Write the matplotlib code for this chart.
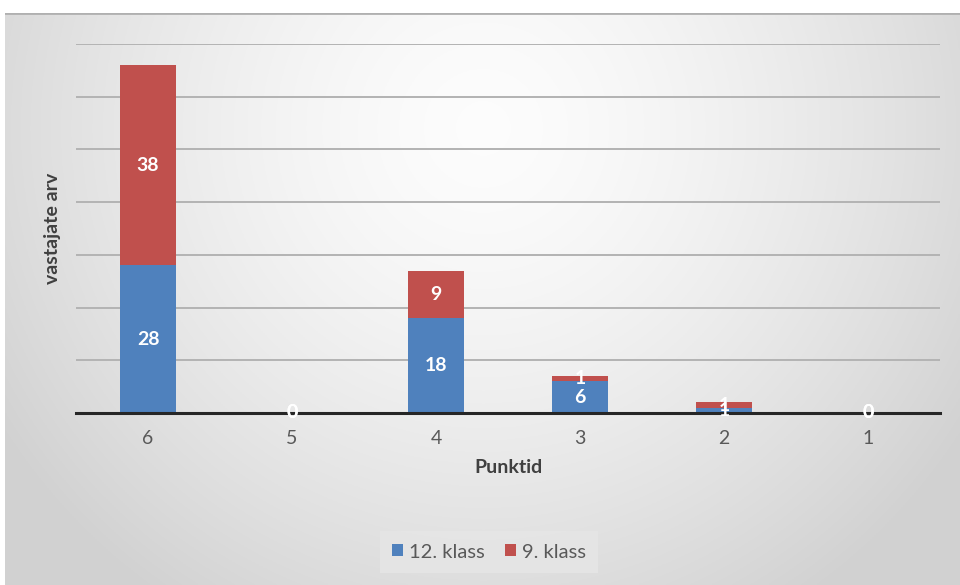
import matplotlib.pyplot as plt
import numpy as np

plt.rcParams["font.family"] = ["Lato", "DejaVu Sans"]

# ---------- data ----------
categories = ["6", "5", "4", "3", "2", "1"]
klass12 = [28, 0, 18, 6, 1, 0]
klass9 = [38, 0, 9, 1, 1, 0]

BLUE = "#4f81bd"
RED = "#c0504d"
GREY_TXT = "#595959"

fig = plt.figure(figsize=(9.6, 5.85), dpi=100)

# ---------- background gradient (chart area) ----------
bg = fig.add_axes([5 / 960, 0, 955 / 960, 1 - 13 / 585], zorder=-5)
h, w = 300, 500
yy, xx = np.mgrid[0:h, 0:w]
dx = (xx - w * 0.5) / (w * 0.6)
dy = (yy - h * 0.2) / (h * 1.0)
r = np.clip(np.sqrt(dx ** 2 + dy ** 2), 0, 1)
shade = 0.99 - 0.17 * r ** 1.5
bg.imshow(np.dstack([shade] * 3), aspect="auto", extent=[0, 1, 0, 1])
bg.axhline(1, color="#b0b0b0", lw=2)
bg.axis("off")

# ---------- bars ----------
ax = fig.add_axes([76 / 960, 1 - 413 / 585, 864 / 960, (413 - 44) / 585])
ax.set_facecolor("none")
x = np.arange(len(categories))
width = 0.39
ax.bar(x, klass12, width, color=BLUE, label="12. klass", zorder=3)
ax.bar(x, klass9, width, bottom=klass12, color=RED, label="9. klass", zorder=3)

for i in range(len(categories)):
    ax.text(x[i], klass12[i] / 2, str(klass12[i]), ha="center", va="center",
            color="white", fontsize=14, fontweight="bold", zorder=5)
    ax.text(x[i], klass12[i] + klass9[i] / 2, str(klass9[i]), ha="center", va="center",
            color="white", fontsize=14, fontweight="bold", zorder=5)

ax.set_xlim(-0.5, len(categories) - 0.5)
ax.set_ylim(0, 70)
ax.set_yticks(np.arange(10, 71, 10))
ax.yaxis.grid(True, color="#b3b3b3", lw=1.4)
ax.set_axisbelow(True)
ax.tick_params(axis="y", left=False, labelleft=False)
ax.tick_params(axis="x", length=0, pad=12, labelsize=14, labelcolor=GREY_TXT)
ax.set_xticks(x)
ax.set_xticklabels(categories)
for s in ["top", "right", "left"]:
    ax.spines[s].set_visible(False)
ax.spines["bottom"].set_color("#262626")
ax.spines["bottom"].set_linewidth(2.2)
ax.spines["bottom"].set_zorder(4)

ax.set_xlabel("Punktid", fontsize=14, fontweight="bold", color="#404040", labelpad=9)
ax.set_ylabel("vastajate arv", fontsize=14, fontweight="bold", color="#404040", labelpad=6)
ax.yaxis.set_label_coords(-0.017, 0.5)

leg = fig.legend(loc="center", bbox_to_anchor=(489 / 960, 1 - 552 / 585), ncol=2,
                 frameon=True, fontsize=14.5, handlelength=0.55, handleheight=0.55,
                 handletextpad=0.3, columnspacing=1.0, borderpad=0.45)
leg.get_frame().set_facecolor("#e6e6e6")
leg.get_frame().set_edgecolor("none")
leg.get_frame().set_boxstyle("square", pad=0.15)
for t in leg.get_texts():
    t.set_color(GREY_TXT)

fig.savefig("out.png", dpi=100, facecolor="white")
